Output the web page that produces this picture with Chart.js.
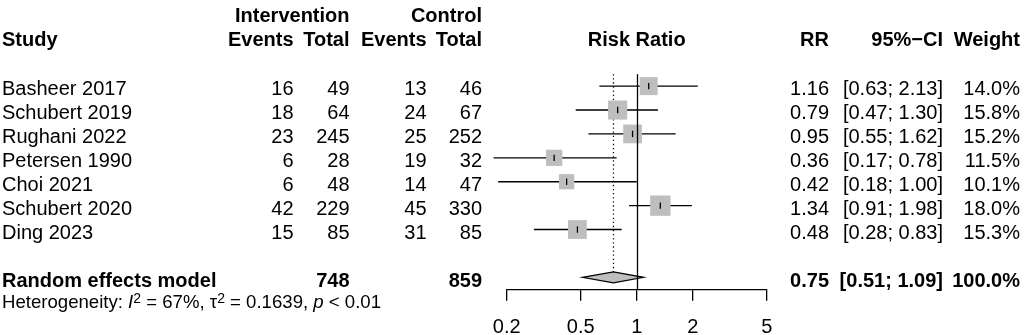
<!DOCTYPE html>
<html>
<head>
<meta charset="utf-8">
<script src="https://cdn.jsdelivr.net/npm/chart.js@4.4.1/dist/chart.umd.min.js"></script>
<style>
  body { margin: 0; background: #fff; }
  #wrap { width: 1024px; height: 335px; position: relative; }
</style>
</head>
<body>
<div id="wrap"><canvas id="forestChart"></canvas></div>
<script>
/* Datos del forest plot */
const studies = ['Basheer 2017', 'Schubert 2019', 'Rughani 2022', 'Petersen 1990', 'Choi 2021', 'Schubert 2020', 'Ding 2023'];
const eventsInt = [16, 18, 23, 6, 6, 42, 15];
const totalInt = [49, 64, 245, 28, 48, 229, 85];
const eventsCtrl = [13, 24, 25, 19, 14, 45, 31];
const totalCtrl = [46, 67, 252, 32, 47, 330, 85];
const rr = [1.16, 0.79, 0.95, 0.36, 0.42, 1.34, 0.48];
const ciLow = [0.63, 0.47, 0.55, 0.17, 0.18, 0.91, 0.28];
const ciHigh = [2.13, 1.30, 1.62, 0.78, 1.00, 1.98, 0.83];
const weights = [14.0, 15.8, 15.2, 11.5, 10.1, 18.0, 15.3];

const pooled = [0.75, 0.51, 1.09]; // RR, low, high
const pooledTotals = [748, 859];
const pooledWeight = 100.0;
const hetI2 = 67;
const hetTau2 = 0.1639;
const hetP = '< 0.01';

const xTicks = [0.2, 0.5, 1, 2, 5];

const fontFamily = '"Liberation Sans", Arial, Helvetica, sans-serif';
const studyRows = studies.map((s, i) => i + 3);
const summaryRow = 11;
const hetRow = 12;

/* Lineas de IC, separadas con null */
let ciData = [];
for (i = 0; i < studies.length; i++) {
  ciData.push({ x: ciLow[i], y: studyRows[i] });
  ciData.push({ x: ciHigh[i], y: studyRows[i] });
  ciData.push({ x: ciHigh[i], y: null });
}

let squareData = [];
let squareRadius = [];
for (i = 0; i < studies.length; i++) {
  squareData.push({ x: rr[i], y: studyRows[i] });
  squareRadius.push(4.8 * Math.sqrt(weights[i]) / Math.SQRT2);
}

function txt(ctx, s, x, y, align, bold, size, italic) {
  ctx.font = (italic ? 'italic ' : '') + (bold ? 'bold ' : '') + (size || 20) + 'px ' + fontFamily;
  ctx.textAlign = align;
  ctx.textBaseline = 'alphabetic';
  ctx.fillStyle = '#000';
  ctx.fillText(s, x, y);
}

const forestPlugin = {
  id: 'forestPlugin',
  afterDatasetsDraw(chart) {
    const ctx = chart.ctx;
    const xs = chart.scales.x;
    const ys = chart.scales.y;

    /* Diamante del modelo */
    const yc = ys.getPixelForValue(summaryRow);
    ctx.save();
    ctx.beginPath();
    ctx.moveTo(xs.getPixelForValue(pooled[1]), yc);
    ctx.lineTo(xs.getPixelForValue(pooled[0]), yc - 5.5);
    ctx.lineTo(xs.getPixelForValue(pooled[2]), yc);
    ctx.lineTo(xs.getPixelForValue(pooled[0]), yc + 5.5);
    ctx.closePath();
    ctx.fillStyle = '#bebebe';
    ctx.fill();
    ctx.strokeStyle = '#000';
    ctx.lineWidth = 1.2;
    ctx.stroke();

    /* Linea de no efecto */
    const x1 = Math.round(xs.getPixelForValue(1)) + 0.5;
    ctx.beginPath();
    ctx.moveTo(x1, ys.getPixelForValue(2.5));
    ctx.lineTo(x1, chart.chartArea.bottom);
    ctx.lineWidth = 1.3;
    ctx.stroke();
    ctx.restore();
  },
  afterDraw(chart) {
    const ctx = chart.ctx;
    const ys = chart.scales.y;
    const area = chart.chartArea;
    ctx.save();

    /* Encabezados */
    const h1 = ys.getPixelForValue(0) + 7.7;
    const h2 = ys.getPixelForValue(1) + 7.5;
    txt(ctx, 'Intervention', 349.5, h1, 'right', true);
    txt(ctx, 'Control', 482, h1, 'right', true);
    txt(ctx, 'Study', 2, h2, 'left', true);
    txt(ctx, 'Events', 293.5, h2, 'right', true);
    txt(ctx, 'Total', 349.5, h2, 'right', true);
    txt(ctx, 'Events', 426.5, h2, 'right', true);
    txt(ctx, 'Total', 482, h2, 'right', true);
    txt(ctx, 'Risk Ratio', (area.left + area.right) / 2, h2, 'center', true);
    txt(ctx, 'RR', 829, h2, 'right', true);
    txt(ctx, '95%\u2212CI', 943, h2, 'right', true);
    txt(ctx, 'Weight', 1020, h2, 'right', true);

    /* Filas de estudios */
    for (i = 0; i < studies.length; i++) {
      const y = ys.getPixelForValue(studyRows[i]) + 9.3;
      txt(ctx, studies[i], 2, y, 'left');
      txt(ctx, String(eventsInt[i]), 293.5, y, 'right');
      txt(ctx, String(totalInt[i]), 349.5, y, 'right');
      txt(ctx, String(eventsCtrl[i]), 426.5, y, 'right');
      txt(ctx, String(totalCtrl[i]), 482, y, 'right');
      txt(ctx, rr[i].toFixed(2), 829, y, 'right');
      txt(ctx, `[${ciLow[i].toFixed(2)}; ${ciHigh[i].toFixed(2)}]`, 943, y, 'right');
      txt(ctx, weights[i].toFixed(1) + '%', 1020, y, 'right');
    }

    /* Modelo de efectos aleatorios */
    const ys2 = ys.getPixelForValue(summaryRow) + 9.3;
    txt(ctx, 'Random effects model', 2, ys2, 'left', true);
    txt(ctx, String(pooledTotals[0]), 349.5, ys2, 'right', true);
    txt(ctx, String(pooledTotals[1]), 482, ys2, 'right', true);
    txt(ctx, pooled[0].toFixed(2), 829, ys2, 'right', true);
    txt(ctx, `[${pooled[1].toFixed(2)}; ${pooled[2].toFixed(2)}]`, 943, ys2, 'right', true);
    txt(ctx, pooledWeight.toFixed(1) + '%', 1020, ys2, 'right', true);

    /* Heterogeneidad */
    const yh = ys.getPixelForValue(hetRow) + 7.1;
    const parts = [
      { t: 'Heterogeneity: ' },
      { t: 'I', it: true },
      { t: '2', sup: true },
      { t: ` = ${hetI2}%, \u03c4` },
      { t: '2', sup: true },
      { t: ` = ${hetTau2}, ` },
      { t: 'p', it: true },
      { t: ' ' + hetP },
    ];
    let x = 2;
    parts.forEach((p) => {
      const size = p.sup ? 14 : 18.6;
      txt(ctx, p.t, x, p.sup ? yh - 5.6 : yh, 'left', false, size, p.it);
      x += ctx.measureText(p.t).width;
    });

    ctx.restore();
  },
};

const cmc = document.getElementById('forestChart');
const chartForest = new Chart(cmc, {
  plugins: [forestPlugin],
  data: {
    datasets: [
      {
        type: 'scatter',
        data: squareData,
        pointStyle: 'line',
        rotation: 90,
        pointRadius: 3.2,
        borderColor: '#000',
        borderWidth: 1.3,
        clip: false,
        order: 0,
      },
      {
        type: 'scatter',
        data: squareData,
        pointStyle: 'rect',
        pointRadius: squareRadius,
        backgroundColor: '#bebebe',
        borderWidth: 0,
        clip: false,
        order: 1,
      },
      {
        type: 'line',
        data: ciData,
        borderColor: '#000',
        borderWidth: 1.4,
        pointRadius: 0,
        spanGaps: false,
        clip: false,
        order: 2,
      },
      {
        type: 'line',
        data: [{ x: pooled[0], y: 2.5 }, { x: pooled[0], y: summaryRow }],
        borderColor: '#000',
        borderWidth: 1.2,
        borderDash: [1.3, 2.8],
        pointRadius: 0,
        clip: false,
        order: 3,
      },
    ],
  },
  options: {
    responsive: true,
    maintainAspectRatio: false,
    animation: false,
    layout: {
      padding: { left: 506.7, right: 257.3, top: 9, bottom: 0 },
    },
    scales: {
      x: {
        type: 'logarithmic',
        min: 0.2,
        max: 5,
        afterBuildTicks: (scale) => {
          scale.ticks = xTicks.map((v) => ({ value: v }));
        },
        afterFit: (scale) => {
          scale.height = 45.7;
        },
        ticks: {
          autoSkip: false,
          maxRotation: 0,
          padding: 15,
          color: '#000',
          font: { family: fontFamily, size: 20 },
          callback: (value) => String(value),
        },
        grid: {
          drawOnChartArea: false,
          drawTicks: true,
          tickLength: 11.5,
          color: '#000',
          lineWidth: 1.3,
        },
        border: { display: true, color: '#000', width: 1.3 },
      },
      y: {
        type: 'linear',
        display: false,
        reverse: true,
        min: 0,
        max: 11.5,
      },
    },
    plugins: {
      legend: { display: false },
      tooltip: { enabled: false },
    },
  },
});
</script>
</body>
</html>
